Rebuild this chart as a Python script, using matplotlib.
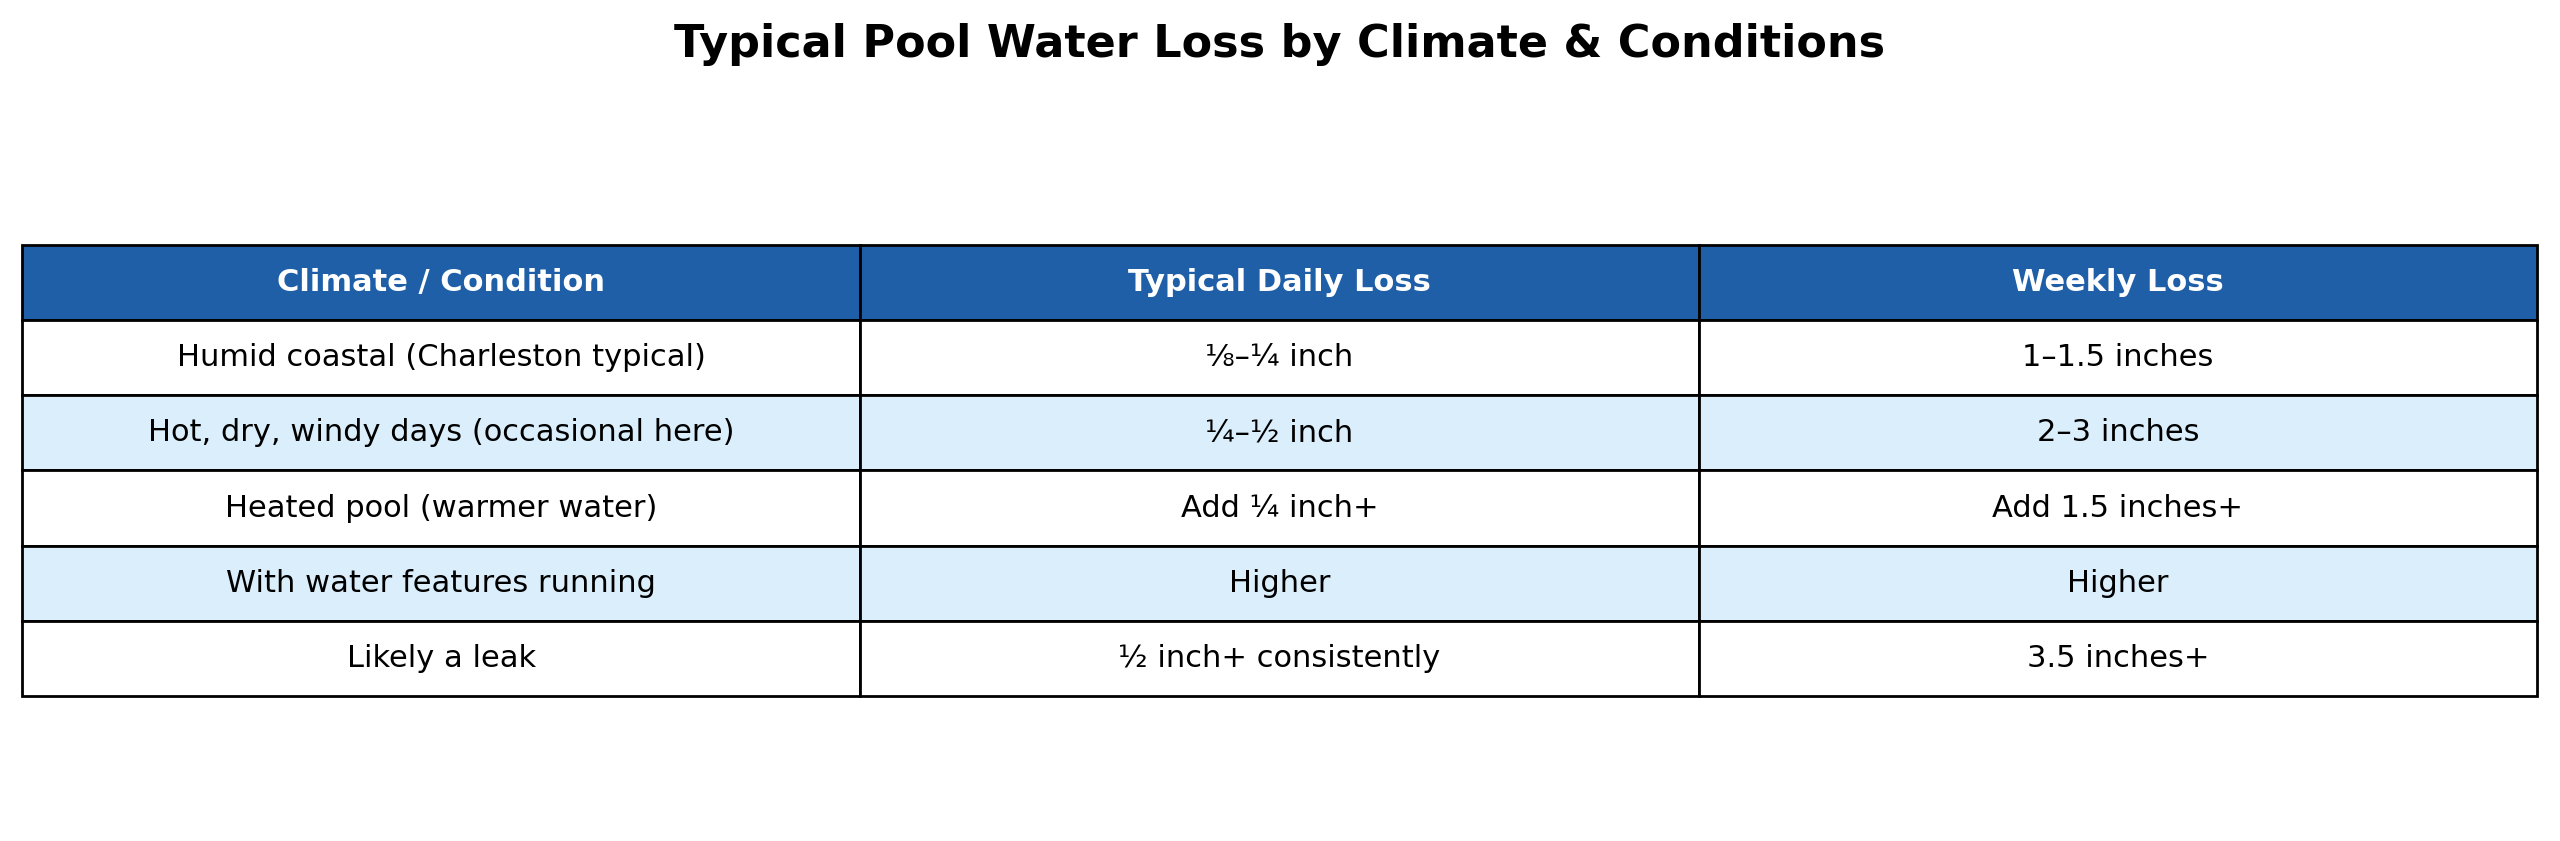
import matplotlib
matplotlib.use("Agg")
import matplotlib.pyplot as plt

# 表のデータ
columns = ["Climate / Condition", "Typical Daily Loss", "Weekly Loss"]
conditions = ["Humid coastal (Charleston typical)", "Hot, dry, windy days (occasional here)",
              "Heated pool (warmer water)", "With water features running", "Likely a leak"]
daily_loss = ["⅛–¼ inch", "¼–½ inch", "Add ¼ inch+", "Higher", "½ inch+ consistently"]
weekly_loss = ["1–1.5 inches", "2–3 inches", "Add 1.5 inches+", "Higher", "3.5 inches+"]

header_color = "#1f5fa8"
stripe_color = "#dbeefb"

fig = plt.figure(figsize=(12.8, 4.205), dpi=200)
ax = fig.add_axes([0, 0, 1, 1])
ax.axis("off")

rows = [list(r) for r in zip(conditions, daily_loss, weekly_loss)]
tbl = ax.table(cellText=rows, colLabels=columns, cellLoc="center",
               bbox=[22 / 2560, 1 - 696 / 841, 2515 / 2560, 451 / 841])
tbl.auto_set_font_size(False)
tbl.set_fontsize(11)

for (r, c), cell in tbl.get_celld().items():
    cell.set_edgecolor("black")
    cell.set_linewidth(1.0)
    if r == 0:
        cell.set_facecolor(header_color)
        cell.get_text().set_color("white")
        cell.get_text().set_fontweight("bold")
    elif r % 2 == 0:
        cell.set_facecolor(stripe_color)
    else:
        cell.set_facecolor("white")

fig.suptitle("Typical Pool Water Loss by Climate & Conditions", y=1 - 45 / 841,
             va="center", fontsize=16, fontweight="bold")

fig.savefig("out.png", dpi=200)
